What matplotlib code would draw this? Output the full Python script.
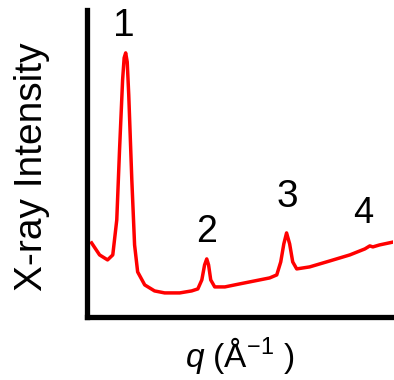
import matplotlib
matplotlib.use('Agg')
import matplotlib.pyplot as plt

plt.rcParams['font.family'] = 'Liberation Sans'
plt.rcParams['mathtext.fontset'] = 'custom'
plt.rcParams['mathtext.rm'] = 'Liberation Sans'
plt.rcParams['mathtext.it'] = 'Liberation Sans:italic'

# datos (unidades arbitrarias)
q = [0.016, 0.042, 0.068, 0.085, 0.098, 0.107, 0.117, 0.122, 0.127, 0.132,
     0.137, 0.147, 0.156, 0.166, 0.189, 0.221, 0.254, 0.303, 0.342, 0.362,
     0.375, 0.384, 0.391, 0.397, 0.404, 0.417, 0.450, 0.498, 0.547, 0.596,
     0.619, 0.632, 0.642, 0.651, 0.661, 0.671, 0.684, 0.726, 0.792, 0.857,
     0.906, 0.922, 0.932, 0.954, 1.0]
intensidad = [77, 65, 60, 65, 100, 170, 240, 262, 267, 258,
              225, 140, 75, 48, 35, 29, 27, 27, 29, 31,
              40, 55, 61, 55, 40, 33, 33, 36, 39, 42,
              45, 58, 76, 87, 76, 58, 51, 53, 59, 65,
              71, 74, 73, 75, 78]

picos = ['1', '2', '3', '4']
pico_q = [0.120, 0.391, 0.655, 0.899]
pico_y = [294, 88, 123, 106]
pico_size = [28, 27, 28, 26]

fig = plt.figure(figsize=(3.94, 3.80), dpi=100)
ax = fig.add_axes([0.220, 0.166, 0.777, 0.808])

ax.plot(q, intensidad, color='red', linewidth=2.5)

for t, x, y, s in zip(picos, pico_q, pico_y, pico_size):
    ax.text(x, y, t, fontsize=s, ha='center', va='center')

ax.set_xlim(0, 0.997)
ax.set_ylim(3, 310)
ax.set_xticks([])
ax.set_yticks([])
ax.spines['top'].set_visible(False)
ax.spines['right'].set_visible(False)
ax.spines['left'].set_linewidth(3.8)
ax.spines['bottom'].set_linewidth(3.8)

fig.text(32 / 394, 1 - 167 / 380, 'X-ray Intensity', rotation=90,
         fontsize=28, ha='center', va='center')
fig.text(240 / 394, 1 - 355 / 380, r'$q$ (Å$^{-1}$ )',
         fontsize=24, ha='center', va='center')

fig.savefig('out.png', dpi=100)
